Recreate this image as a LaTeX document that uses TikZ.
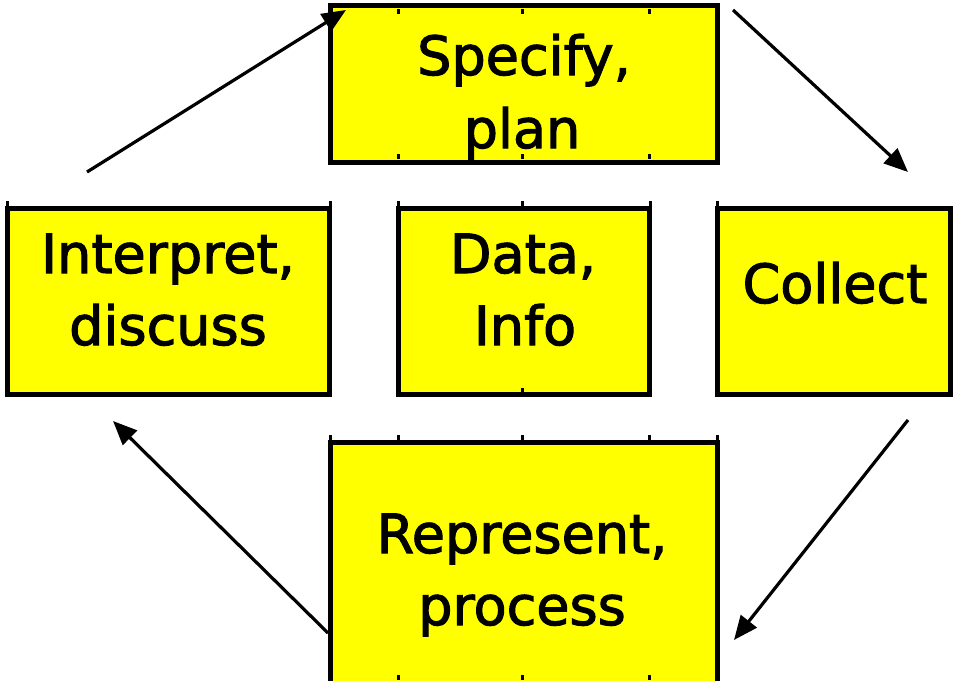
\documentclass[tikz,border=0pt]{standalone}
\usepackage{fontspec}
\setmainfont{DejaVu Sans}
\newfontfamily\heavysans{DejaVu Sans}[FakeBold=2]
\usetikzlibrary{arrows.meta}
\definecolor{boxyellow}{RGB}{255,255,0}
\tikzset{
  box/.style={draw=black, fill=boxyellow, line width=5pt, rectangle, inner sep=0pt, outer sep=0pt},
  lbl/.style={anchor=base, inner sep=0pt, font=\heavysans\fontsize{54}{72}\selectfont, text=black},
  tickmark/.style={draw=black, line width=3pt},
  arr/.style={draw=black, line width=3.2pt, -{Triangle[length=24pt,width=20pt]}}
}
\begin{document}
\begin{tikzpicture}[x=1pt,y=-1pt]
\useasboundingbox (0,0) rectangle (953,680);
\fill[white] (0,0) rectangle (953,680);
\begin{scope}
\clip (0,0) rectangle (953,680);
% boxes
\node[box, minimum width=387pt, minimum height=157pt] (spec) at (524,84) {};
\node[box, minimum width=322pt, minimum height=186pt] (interp) at (168.5,301.5) {};
\node[box, minimum width=251pt, minimum height=186pt] (data) at (524,301.5) {};
\node[box, minimum width=233pt, minimum height=186pt] (coll) at (834,301.5) {};
\node[box, minimum width=387pt, minimum height=247.5pt] (repr) at (524,566.25) {};
% tick marks
\foreach \tx in {398,522,649}{
  \draw[tickmark] (\tx,9) -- (\tx,14);
  \draw[tickmark] (\tx,159) -- (\tx,154);
  \draw[tickmark] (\tx,435) -- (\tx,440);
  \draw[tickmark] (\tx,680) -- (\tx,675);
}
\draw[tickmark] (330,435) -- (330,440);
\draw[tickmark] (717,435) -- (717,440);
\draw[tickmark] (7,201) -- (7,206);
\draw[tickmark] (330,201) -- (330,206);
\draw[tickmark] (398,201) -- (398,206);
\draw[tickmark] (522,201) -- (522,206);
\draw[tickmark] (650,201) -- (650,206);
\draw[tickmark] (717,201) -- (717,206);
\draw[tickmark] (522,392) -- (522,388);
% labels
\node[lbl] (specA) at (524,75) {Specify,};
\node[lbl] (specB) at (522,148) {plan};
\node[lbl] (interpA) at (168,273) {Interpret,};
\node[lbl] (interpB) at (168,345) {discuss};
\node[lbl] (dataA) at (523,273) {Data,};
\node[lbl] (dataB) at (525,345) {Info};
\node[lbl] (collA) at (835,303) {Collect};
\node[lbl] (reprA) at (522,553) {Represent,};
\node[lbl] (reprB) at (522,625) {process};
% arrows
\coordinate (a1s) at (87,172);
\coordinate (a1e) at (346,10);
\coordinate (a2s) at (733,10);
\coordinate (a2e) at (908,172);
\coordinate (a3s) at (908,420);
\coordinate (a3e) at (734,640);
\coordinate (a4s) at (328,633);
\coordinate (a4e) at (113,421);
\draw[arr] (a1s) -- (a1e);
\draw[arr] (a2s) -- (a2e);
\draw[arr] (a3s) -- (a3e);
\draw[arr] (a4s) -- (a4e);
\end{scope}
\end{tikzpicture}
\end{document}
